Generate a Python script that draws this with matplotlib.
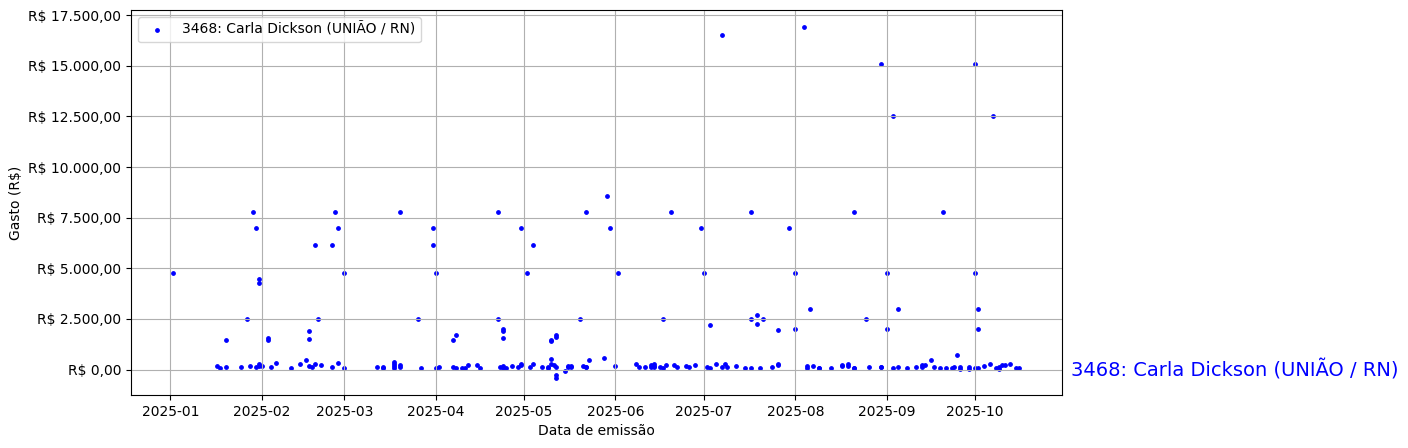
import pandas as pd
import matplotlib
matplotlib.use('Agg')
import matplotlib.pyplot as plt
import matplotlib.dates as mdates
from matplotlib.ticker import FuncFormatter

deputado = '3468: Carla Dickson (UNIÃO / RN)'

# Data de emissão e valor de cada gasto
datas = [
    '2025-01-02', '2025-01-17', '2025-01-18', '2025-01-20', '2025-01-20', '2025-01-25',
    '2025-01-27', '2025-01-28', '2025-01-29', '2025-01-30', '2025-01-30', '2025-01-31',
    '2025-01-31', '2025-01-31', '2025-01-31', '2025-02-01', '2025-02-03', '2025-02-03',
    '2025-02-04', '2025-02-06', '2025-02-11', '2025-02-14', '2025-02-16', '2025-02-17',
    '2025-02-17', '2025-02-17', '2025-02-18', '2025-02-19', '2025-02-19', '2025-02-20',
    '2025-02-21', '2025-02-25', '2025-02-25', '2025-02-26', '2025-02-27', '2025-02-27',
    '2025-03-01', '2025-03-01', '2025-03-12', '2025-03-14', '2025-03-14', '2025-03-18',
    '2025-03-18', '2025-03-18', '2025-03-18', '2025-03-20', '2025-03-20', '2025-03-20',
    '2025-03-26', '2025-03-27', '2025-03-31', '2025-03-31', '2025-04-01', '2025-04-01',
    '2025-04-02', '2025-04-07', '2025-04-07', '2025-04-08', '2025-04-08', '2025-04-10',
    '2025-04-11', '2025-04-12', '2025-04-15', '2025-04-16', '2025-04-22', '2025-04-22',
    '2025-04-23', '2025-04-24', '2025-04-24', '2025-04-24', '2025-04-24', '2025-04-24',
    '2025-04-25', '2025-04-27', '2025-04-29', '2025-04-30', '2025-04-30', '2025-04-30',
    '2025-05-02', '2025-05-03', '2025-05-04', '2025-05-04', '2025-05-07', '2025-05-09',
    '2025-05-09', '2025-05-10', '2025-05-10', '2025-05-10', '2025-05-10', '2025-05-11',
    '2025-05-12', '2025-05-12', '2025-05-12', '2025-05-12', '2025-05-12', '2025-05-15',
    '2025-05-16', '2025-05-16', '2025-05-17', '2025-05-17', '2025-05-20', '2025-05-21',
    '2025-05-22', '2025-05-22', '2025-05-22', '2025-05-23', '2025-05-28', '2025-05-29',
    '2025-05-30', '2025-06-01', '2025-06-02', '2025-06-08', '2025-06-09', '2025-06-11',
    '2025-06-13', '2025-06-13', '2025-06-14', '2025-06-14', '2025-06-14', '2025-06-16',
    '2025-06-17', '2025-06-17', '2025-06-18', '2025-06-20', '2025-06-21', '2025-06-22',
    '2025-06-25', '2025-06-26', '2025-06-28', '2025-06-30', '2025-07-01', '2025-07-02',
    '2025-07-03', '2025-07-03', '2025-07-05', '2025-07-07', '2025-07-07', '2025-07-08',
    '2025-07-09', '2025-07-12', '2025-07-15', '2025-07-17', '2025-07-17', '2025-07-17',
    '2025-07-19', '2025-07-19', '2025-07-20', '2025-07-21', '2025-07-24', '2025-07-26',
    '2025-07-26', '2025-07-26', '2025-07-30', '2025-08-01', '2025-08-01', '2025-08-04',
    '2025-08-05', '2025-08-05', '2025-08-06', '2025-08-07', '2025-08-09', '2025-08-09',
    '2025-08-13', '2025-08-17', '2025-08-17', '2025-08-19', '2025-08-19', '2025-08-21',
    '2025-08-21', '2025-08-21', '2025-08-25', '2025-08-26', '2025-08-30', '2025-08-30',
    '2025-08-30', '2025-09-01', '2025-09-01', '2025-09-03', '2025-09-03', '2025-09-05',
    '2025-09-05', '2025-09-08', '2025-09-11', '2025-09-13', '2025-09-13', '2025-09-14',
    '2025-09-16', '2025-09-17', '2025-09-19', '2025-09-20', '2025-09-21', '2025-09-23',
    '2025-09-24', '2025-09-25', '2025-09-26', '2025-09-26', '2025-09-29', '2025-09-29',
    '2025-10-01', '2025-10-01', '2025-10-01', '2025-10-02', '2025-10-02', '2025-10-02',
    '2025-10-04', '2025-10-06', '2025-10-07', '2025-10-08', '2025-10-09', '2025-10-09',
    '2025-10-10', '2025-10-11', '2025-10-13', '2025-10-15', '2025-10-16',
]
gastos = [
    4790, 200, 100, 150, 1480, 150,
    2500, 200, 7800, 150, 7000, 4490,
    4290, 300, 200, 200, 1580, 1480,
    150, 345, 100, 300, 490, 200,
    1530, 1890, 150, 300, 6170, 2500,
    250, 150, 6170, 7800, 7000, 345,
    100, 4790, 150, 150, 100, 395,
    300, 200, 100, 250, 150, 7800,
    2500, 100, 7000, 6170, 4790, 100,
    150, 150, 1480, 1730, 100, 100,
    100, 250, 250, 100, 7800, 2500,
    150, 1580, 1890, 2030, 200, 100,
    100, 200, 150, 250, 300, 7000,
    4790, 150, 300, 6170, 150, 100,
    150, 300, 540, 1400, 1440, 250,
    150, 1730, 1630, -250, -395, -50,
    150, 200, 150, 200, 2500, 200,
    150, 150, 7800, 490, 590, 8590,
    7000, 200, 4790, 300, 150, 150,
    150, 250, 300, 200, 150, 150,
    100, 2500, 250, 7800, 250, 150,
    200, 150, 250, 7000, 4790, 150,
    2220, 100, 300, 150, 16500, 300,
    150, 200, 100, 100, 7800, 2500,
    2700, 2270, 100, 2500, 150, 250,
    300, 1970, 7000, 4790, 2020, 16900,
    200, 100, 3010, 200, 100, 100,
    100, 200, 250, 200, 300, 100,
    100, 7800, 2500, 150, 150, 150,
    15100, 4790, 2020, 100, 12500, 150,
    3010, 100, 150, 150, 250, 250,
    490, 150, 100, 7800, 100, 100,
    150, 740, 150, 50, 150, 50,
    100, 4790, 15100, 3010, 2020, 100,
    200, 300, 12500, 100, 150, 50,
    250, 250, 300, 100, 100,
]

df = pd.DataFrame({'data': pd.to_datetime(datas), 'gasto': gastos})


def formata_real(v, pos):
    s = f'{v:,.2f}'
    s = s.replace(',', 'X').replace('.', ',').replace('X', '.')
    return f'R$ {s}'


fig, ax = plt.subplots(figsize=(14.08, 4.48), dpi=100)
fig.subplots_adjust(left=0.093, right=0.754, top=0.978, bottom=0.118)

ax.scatter(df['data'], df['gasto'], s=6, color='blue', label=deputado)

ax.xaxis.set_major_locator(mdates.MonthLocator())
ax.xaxis.set_major_formatter(mdates.DateFormatter('%Y-%m'))
ax.yaxis.set_major_formatter(FuncFormatter(formata_real))

ax.set_xlabel('Data de emissão')
ax.set_ylabel('Gasto (R$)')
ax.legend(loc='upper left')
ax.grid(True)

# rótulo do deputado ao lado direito, na altura de zero
ax.annotate(deputado, xy=(1.01, 0), xycoords=('axes fraction', 'data'),
            color='blue', fontsize=14, va='center', ha='left',
            annotation_clip=False)

plt.savefig('out.png', dpi=100)
plt.close()
